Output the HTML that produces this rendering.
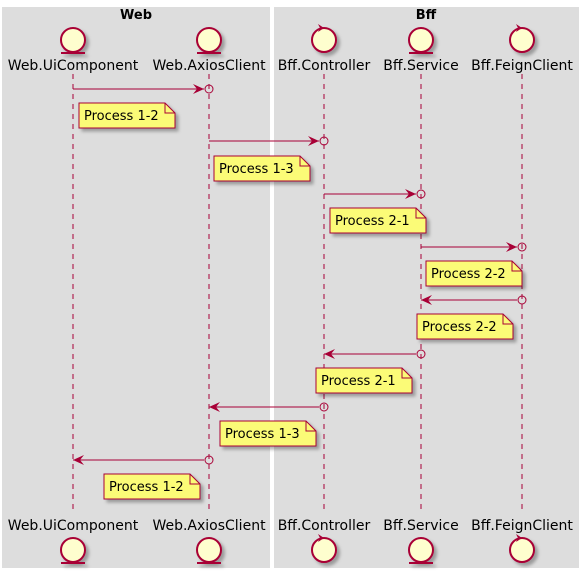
<!DOCTYPE html>
<html><head><meta charset="utf-8"><style>
html,body{margin:0;padding:0;background:#fff;}
svg text{font-family:"DejaVu Sans","Liberation Sans",sans-serif;}
</style></head><body>
<svg width="584" height="574" viewBox="0 0 584 574" xmlns="http://www.w3.org/2000/svg">
<defs>
<filter id="sh" x="-20%" y="-20%" width="150%" height="150%"><feDropShadow dx="3" dy="3" stdDeviation="1.5" flood-color="#000" flood-opacity="0.3"/></filter>
</defs>
<rect x="2" y="7" width="268" height="561" fill="#DDDDDD"/>
<rect x="274" y="7" width="305" height="561" fill="#DDDDDD"/>
<text x="136" y="19" font-size="13" font-weight="bold" text-anchor="middle">Web</text>
<text x="426" y="19" font-size="13" font-weight="bold" text-anchor="middle">Bff</text>
<g stroke="#A80036" stroke-width="1" stroke-dasharray="5,5">
<line x1="73" y1="74" x2="73" y2="514"/>
<line x1="209" y1="74" x2="209" y2="514"/>
<line x1="324" y1="74" x2="324" y2="514"/>
<line x1="421" y1="74" x2="421" y2="514"/>
<line x1="522" y1="74" x2="522" y2="514"/>
</g>
<g font-size="14" fill="#000" text-anchor="middle">
<text x="73" y="70">Web.UiComponent</text><text x="209" y="70">Web.AxiosClient</text><text x="324" y="70">Bff.Controller</text><text x="421" y="70">Bff.Service</text><text x="522" y="70">Bff.FeignClient</text>
<text x="73" y="530">Web.UiComponent</text><text x="209" y="530">Web.AxiosClient</text><text x="324" y="530">Bff.Controller</text><text x="421" y="530">Bff.Service</text><text x="522" y="530">Bff.FeignClient</text>
</g>
<g fill="#FEFECE" stroke="#A80036" stroke-width="2" filter="url(#sh)">
<circle cx="73" cy="40" r="12"/><line x1="61" y1="53" x2="85" y2="53"/>
<circle cx="209" cy="40" r="12"/><line x1="197" y1="53" x2="221" y2="53"/>
<circle cx="421" cy="40" r="12"/><line x1="409" y1="53" x2="433" y2="53"/>
<circle cx="324" cy="40" r="12"/><circle cx="522" cy="40" r="12"/>
<circle cx="73" cy="550" r="12"/><line x1="61" y1="563" x2="85" y2="563"/>
<circle cx="209" cy="550" r="12"/><line x1="197" y1="563" x2="221" y2="563"/>
<circle cx="421" cy="550" r="12"/><line x1="409" y1="563" x2="433" y2="563"/>
<circle cx="324" cy="550" r="12"/><circle cx="522" cy="550" r="12"/>
</g>
<g fill="#A80036">
<polygon points="324,28 318,24 320,28 318,32"/><polygon points="522,28 516,24 518,28 516,32"/>
<polygon points="324,538 318,534 320,538 318,542"/><polygon points="522,538 516,534 518,538 516,542"/>
</g>
<g stroke="#A80036" stroke-width="1" fill="none">
<line x1="73" y1="89" x2="204" y2="89"/><circle cx="209" cy="89" r="4"/>
<line x1="209" y1="141" x2="319" y2="141"/><circle cx="324" cy="141" r="4"/>
<line x1="324" y1="194" x2="416" y2="194"/><circle cx="421" cy="194" r="4"/>
<line x1="421" y1="247" x2="517" y2="247"/><circle cx="522" cy="247" r="4"/>
<line x1="421" y1="300" x2="517" y2="300"/><circle cx="522" cy="300" r="4"/>
<line x1="324" y1="354" x2="416" y2="354"/><circle cx="421" cy="354" r="4"/>
<line x1="209" y1="407" x2="319" y2="407"/><circle cx="324" cy="407" r="4"/>
<line x1="73" y1="460" x2="204" y2="460"/><circle cx="209" cy="460" r="4"/>
</g>
<g fill="#A80036">
<polygon points="204,89 193,84 197,89 193,94"/>
<polygon points="319,141 308,136 312,141 308,146"/>
<polygon points="416,194 405,189 409,194 405,199"/>
<polygon points="517,247 506,242 510,247 506,252"/>
<polygon points="421,300 432,295 428,300 432,305"/>
<polygon points="324,354 335,349 331,354 335,359"/>
<polygon points="209,407 220,402 216,407 220,412"/>
<polygon points="73,460 84,455 80,460 84,465"/>
</g>
<g font-size="13" fill="#000">
<g transform="translate(79,103)"><path d="M0,0 H86 L96,10 V25 H0 Z" fill="#FBFB77" stroke="#A80036" filter="url(#sh)"/><path d="M86,0 V10 H96" fill="none" stroke="#A80036"/><text x="5" y="17">Process 1-2</text></g>
<g transform="translate(214,156)"><path d="M0,0 H86 L96,10 V25 H0 Z" fill="#FBFB77" stroke="#A80036" filter="url(#sh)"/><path d="M86,0 V10 H96" fill="none" stroke="#A80036"/><text x="5" y="17">Process 1-3</text></g>
<g transform="translate(330,208)"><path d="M0,0 H86 L96,10 V25 H0 Z" fill="#FBFB77" stroke="#A80036" filter="url(#sh)"/><path d="M86,0 V10 H96" fill="none" stroke="#A80036"/><text x="5" y="17">Process 2-1</text></g>
<g transform="translate(426,261)"><path d="M0,0 H86 L96,10 V25 H0 Z" fill="#FBFB77" stroke="#A80036" filter="url(#sh)"/><path d="M86,0 V10 H96" fill="none" stroke="#A80036"/><text x="5" y="17">Process 2-2</text></g>
<g transform="translate(417,314)"><path d="M0,0 H86 L96,10 V25 H0 Z" fill="#FBFB77" stroke="#A80036" filter="url(#sh)"/><path d="M86,0 V10 H96" fill="none" stroke="#A80036"/><text x="5" y="17">Process 2-2</text></g>
<g transform="translate(316,368)"><path d="M0,0 H86 L96,10 V25 H0 Z" fill="#FBFB77" stroke="#A80036" filter="url(#sh)"/><path d="M86,0 V10 H96" fill="none" stroke="#A80036"/><text x="5" y="17">Process 2-1</text></g>
<g transform="translate(220,421)"><path d="M0,0 H86 L96,10 V25 H0 Z" fill="#FBFB77" stroke="#A80036" filter="url(#sh)"/><path d="M86,0 V10 H96" fill="none" stroke="#A80036"/><text x="5" y="17">Process 1-3</text></g>
<g transform="translate(104,474)"><path d="M0,0 H86 L96,10 V25 H0 Z" fill="#FBFB77" stroke="#A80036" filter="url(#sh)"/><path d="M86,0 V10 H96" fill="none" stroke="#A80036"/><text x="5" y="17">Process 1-2</text></g>
</g>
</svg>
</body></html>
